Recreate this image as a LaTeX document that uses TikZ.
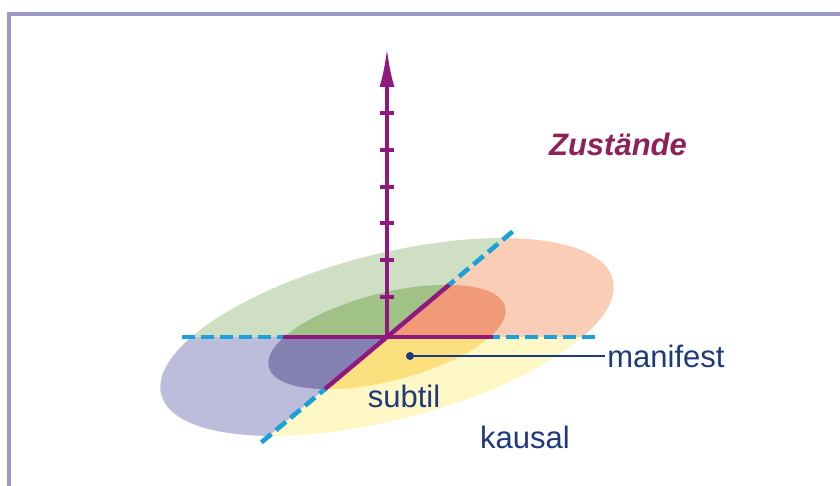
\documentclass[tikz,border=0pt]{standalone}
\usepackage{fontspec}
\setmainfont{Liberation Sans}
\usetikzlibrary{arrows.meta,positioning}
\definecolor{framecol}{HTML}{9C98C6}
\definecolor{axiscol}{HTML}{8E1A80}
\definecolor{dashcol}{HTML}{1BA0D8}
\definecolor{labelcol}{HTML}{1E3A7E}
\definecolor{titlecol}{HTML}{8E2159}
\definecolor{greenout}{HTML}{CFDFC4}
\definecolor{greenin}{HTML}{A0C287}
\definecolor{orangeout}{HTML}{F9CDB6}
\definecolor{orangein}{HTML}{F09A78}
\definecolor{blueout}{HTML}{BDBCDA}
\definecolor{bluein}{HTML}{8582B2}
\definecolor{yellowout}{HTML}{FEF7C6}
\definecolor{yellowin}{HTML}{FCE07E}
\tikzset{
    axisline/.style={draw=axiscol, line width=2.2pt},
    ticks/.style={draw=axiscol, line width=2pt},
    axisdash/.style={draw=dashcol, line width=2.3pt, dash pattern=on 6.5pt off 3pt},
    plane/.style={rotate=14.3},
    label/.style={text=labelcol, font=\fontsize{15.5}{18}\selectfont, inner sep=1pt}
}
\begin{document}
\begin{tikzpicture}[x=0.5pt, y=0.5pt]
    \useasboundingbox (-387,-149) rectangle (453,337);
    % frame
    \draw[framecol, line width=1.6pt] (-378,-149) -- (-378,323) -- (453,323);

    \coordinate (o) at (0,0);
    % quadrants of the plane
    \foreach \a/\b/\outer/\inner in {40/180/greenout/greenin, 180/220/blueout/bluein,
        220/360/yellowout/yellowin, 0/40/orangeout/orangein} {
        \begin{scope}
            \clip (o) -- (\a:500) -- ({(\a+\b)/2}:500) -- (\b:500) -- cycle;
            \fill[\outer, plane] (o) ellipse [x radius=233, y radius=83];
            \fill[\inner, plane] (o) ellipse [x radius=122, y radius=44];
        \end{scope}
    }

    \coordinate (hl) at (-205,0);
    \coordinate (hli) at (-104,0);
    \coordinate (hr) at (208,0);
    \coordinate (hri) at (106,0);
    \coordinate (dl) at (220:164);
    \coordinate (dli) at (220:81);
    \coordinate (dr) at (40:164);
    \coordinate (dri) at (40:81);
    \coordinate (top) at (0,290);

    \draw[axisdash] (hl) -- (hli);
    \draw[axisdash] (hr) -- (hri);
    \draw[axisdash] (dl) -- (dli);
    \draw[axisdash] (dr) -- (dri);
    \draw[axisline] (hli) -- (hri);
    \draw[axisline] (dli) -- (dri);

    % vertical axis
    \foreach \y in {40,76.8,113.6,150.4,187.2,224}
        \draw[ticks] (-7,\y) -- (7,\y);
    \draw[axisline, -{Latex[length=20pt, width=7.5pt]}] (o) -- (top);

    % labels
    \node (manifest) [label, anchor=west] at (218,-19) {manifest};
    \coordinate (dot) at (23,-19);
    \fill[labelcol] (dot) circle (4);
    \draw[labelcol, line width=1.3pt] (dot) -- (dot -| manifest.west);
    \node (subtil) [label] at (17,-59) {subtil};
    \node (kausal) [label] at (138,-100) {kausal};
    \node (zustaende) [label, text=titlecol, font=\fontsize{15.5}{18}\selectfont\bfseries\itshape] at (231,193) {Zustände};
\end{tikzpicture}
\end{document}
